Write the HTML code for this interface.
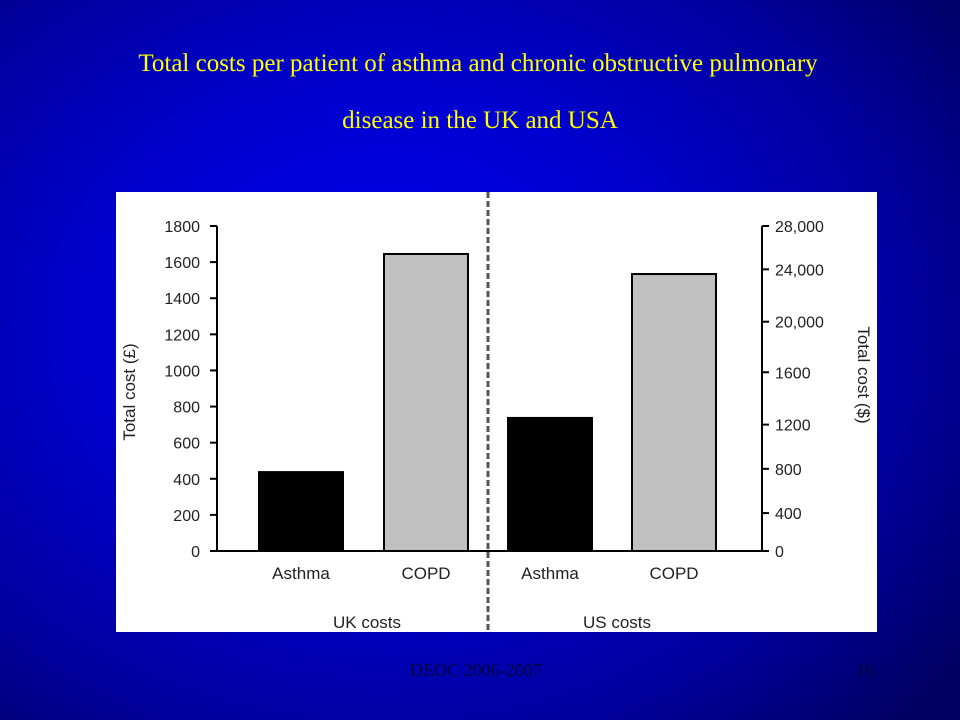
<!DOCTYPE html>
<html><head><meta charset="utf-8"><style>
body{margin:0;width:960px;height:720px;overflow:hidden;font-family:"Liberation Serif",serif;
background:radial-gradient(ellipse 75% 80% at 40% 45%,#0000ee 0%,#0000d0 40%,#00009a 75%,#000060 100%);position:relative}
.t{position:absolute;left:0;width:960px;text-align:center;color:#ffff00;font-size:25px}
</style></head><body>
<div class="t" style="top:50px;left:-2px">Total costs per patient of asthma and chronic obstructive pulmonary</div>
<div class="t" style="top:107px">disease in the UK and USA</div>
<svg width="960" height="720" style="position:absolute;left:0;top:0" font-family="Liberation Sans, sans-serif">
<rect x="116" y="192" width="761" height="440" fill="#fff"/>
<g id="g"></g>
</svg>
<div style="position:absolute;left:410px;top:660px;font-size:18px;color:#000040">DEOC 2006-2007</div>
<div style="position:absolute;left:856px;top:660px;font-size:18px;color:#000040">16</div>
<script>
const categories=["Asthma","COPD","Asthma","COPD"];
const values=[437,1645,737,1534];
const colors=["#000","#c0c0c0","#000","#c0c0c0"];
const leftTicks=[0,200,400,600,800,1000,1200,1400,1600,1800];
const rightTickLabels=["0","400","800","1200","1600","20,000","24,000","28,000"];
const rightTickValues=[0,210,455,700,990,1270,1560,1800];
const groups=["UK costs","US costs"];
const g=document.getElementById('g');const NS='http://www.w3.org/2000/svg';
const y=v=>551-v*325/1800;
const barX=[259,384,508,632];
function mk(t,a,txt){const e=document.createElementNS(NS,t);for(const k in a)e.setAttribute(k,a[k]);if(txt!==undefined)e.textContent=txt;g.appendChild(e);return e;}
let e;
e=mk('line',{x1:217,y1:y(0),x2:217,y2:y(1800),stroke:'#000','stroke-width':2});


e=mk('line',{x1:762,y1:y(0),x2:762,y2:y(1800),stroke:'#000','stroke-width':2});


e=mk('line',{x1:212,y1:y(0),x2:762,y2:y(0),stroke:'#000','stroke-width':2});


leftTicks.forEach(v=>{
 e=mk('line',{x1:210,x2:217,y1:y(v),y2:y(v),stroke:'#000','stroke-width':2});
 
 
 e=mk('text',{x:200,y:y(v)+6,'text-anchor':'end','font-size':16,fill:'#222'},v);
 
 
});
rightTickValues.forEach((v,i)=>{
 e=mk('line',{x1:762,x2:769,y1:y(v),y2:y(v),stroke:'#000','stroke-width':2});
 
 
 e=mk('text',{x:775,y:y(v)+6,'font-size':16,fill:'#222'},rightTickLabels[i]);
 
 
});
values.forEach((v,i)=>{
 e=mk('rect',{x:barX[i],y:y(v),width:84,height:y(0)-y(v),fill:colors[i],stroke:'#000','stroke-width':2});
 
 
 e=mk('text',{x:barX[i]+42,y:579,'text-anchor':'middle','font-size':17,fill:'#222'},categories[i]);
 
 
});
groups.forEach((s,i)=>{
 e=mk('text',{x:[367,617][i],y:628,'text-anchor':'middle','font-size':17,fill:'#222'},s);
 
 
});
e=mk('line',{x1:488,x2:488,y1:192,y2:632,stroke:'#555','stroke-width':3,'stroke-dasharray':'6,3'});


e=mk('text',{x:0,y:0,transform:'translate(135,392) rotate(-90)','text-anchor':'middle','font-size':17,fill:'#222'},'Total cost (£)');


e=mk('text',{x:0,y:0,transform:'translate(858,375) rotate(90)','text-anchor':'middle','font-size':17,fill:'#222'},'Total cost ($)');


</script>
</body></html>
